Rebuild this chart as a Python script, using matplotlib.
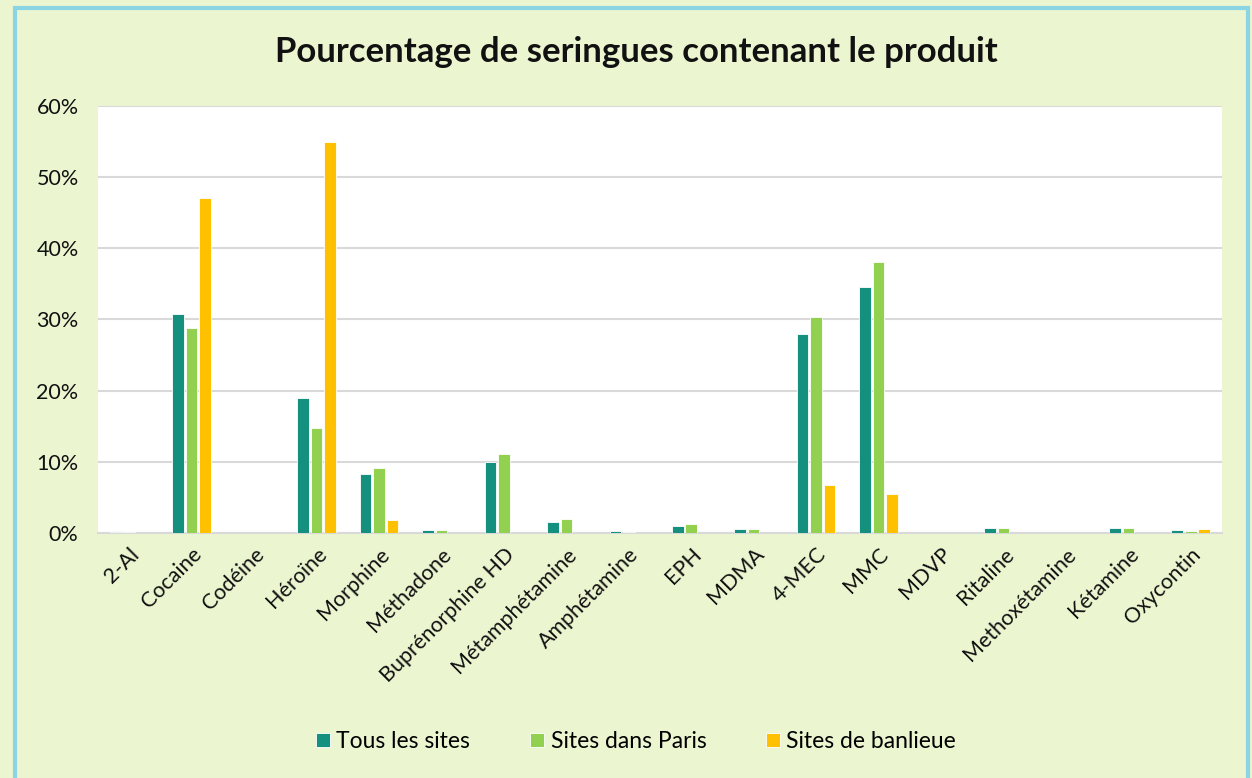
import numpy as np
import matplotlib.pyplot as plt
from matplotlib.patches import Rectangle
from matplotlib.ticker import FuncFormatter

plt.rcParams['font.family'] = ['Lato', 'DejaVu Sans']

produits = ['2-Al', 'Cocaine', 'Codéine', 'Héroïne', 'Morphine', 'Méthadone',
            'Buprénorphine HD', 'Métamphétamine', 'Amphétamine', 'EPH', 'MDMA',
            '4-MEC', 'MMC', 'MDVP', 'Ritaline', 'Methoxétamine', 'Kétamine', 'Oxycontin']
tous = [0.2, 30.7, 0.05, 19.0, 8.3, 0.4, 10.0, 1.6, 0.3, 1.0, 0.6, 27.9, 34.6, 0, 0.7, 0.05, 0.7, 0.4]
paris = [0.2, 28.8, 0.05, 14.7, 9.1, 0.4, 11.1, 1.9, 0.2, 1.2, 0.6, 30.4, 38.1, 0, 0.7, 0.05, 0.7, 0.3]
banlieue = [0, 47.0, 0, 55.0, 1.8, 0, 0, 0, 0, 0, 0, 6.7, 5.5, 0, 0, 0, 0, 0.6]

series = [('Tous les sites', tous, '#15907F'),
          ('Sites dans Paris', paris, '#92D050'),
          ('Sites de banlieue', banlieue, '#FFC000')]

bg = '#EBF5D0'
fig = plt.figure(figsize=(12.52, 7.78), dpi=100, facecolor=bg)
ax = fig.add_axes([0.0783, 0.315, 0.8977, 0.5488])
ax.set_facecolor('white')

x = np.arange(len(produits))
w = 0.185
step = 0.216
for i, (name, vals, col) in enumerate(series):
    ax.bar(x + (i - 1) * step, vals, width=w, color=col, label=name,
           edgecolor='white', linewidth=0.6, zorder=3)

ax.set_xlim(-0.5, len(produits) - 0.5)
ax.set_ylim(0, 60)
ax.set_yticks(range(0, 61, 10))
ax.yaxis.set_major_formatter(FuncFormatter(lambda v, p: f'{int(v)}%'))
ax.grid(axis='y', color='#D9D9D9', linewidth=1.5, zorder=0)
for s in ['top', 'right', 'left']:
    ax.spines[s].set_visible(False)
ax.spines['bottom'].set_color('#D9D9D9')
ax.spines['bottom'].set_linewidth(1.5)
ax.tick_params(axis='both', length=0, colors='#111111')
ax.tick_params(axis='y', pad=14, labelsize=15.5)
ax.set_xticks(x)
ax.set_xticklabels(produits, rotation=45, ha='right', rotation_mode='anchor')
ax.tick_params(axis='x', pad=8, labelsize=15.5)

fig.text(0.508, 0.933, 'Pourcentage de seringues contenant le produit',
         ha='center', va='center', fontsize=25, fontweight='bold', color='#111111')

fig.legend(loc='center', bbox_to_anchor=(0.508, 0.047), ncol=3, frameon=False,
           fontsize=16.5, handlelength=0.6, handleheight=0.6, columnspacing=2.6,
           handletextpad=0.3)

fig.patches.append(Rectangle((0.012, -0.01), 0.985, 1.0, transform=fig.transFigure,
                             fill=False, edgecolor='#8AD4E4', linewidth=3))

fig.savefig('out.png', dpi=100, facecolor=bg)
